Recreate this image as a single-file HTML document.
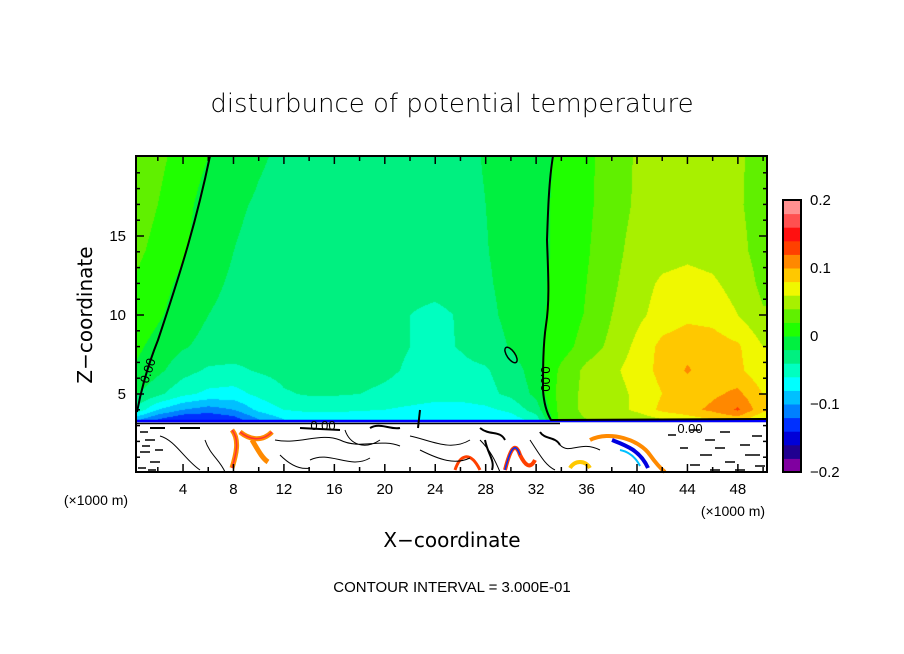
<!DOCTYPE html>
<html><head><meta charset="utf-8">
<style>
html,body{margin:0;padding:0;background:#fff;}
#wrap{position:relative;width:904px;height:654px;overflow:hidden;font-family:"Liberation Sans","DejaVu Sans",sans-serif;}
canvas{position:absolute;left:136px;top:156px;}
svg{position:absolute;left:0;top:0;}
</style></head>
<body>
<div id="wrap">
<canvas id="field" width="631" height="316"></canvas>
<svg id="ov" width="904" height="654">
  <text x="452" y="112" text-anchor="middle" font-size="26" font-family="DejaVu Sans, Liberation Sans, sans-serif" font-weight="200">disturbunce of potential temperature</text>
  <text transform="translate(92,315) rotate(-90)" text-anchor="middle" font-size="20" font-family="DejaVu Sans, Liberation Sans, sans-serif">Z−coordinate</text>
  <text x="452" y="547" text-anchor="middle" font-size="20" font-family="DejaVu Sans, Liberation Sans, sans-serif">X−coordinate</text>
  <text x="96" y="505" text-anchor="middle" font-size="14">(×1000 m)</text>
  <text x="733" y="516" text-anchor="middle" font-size="14">(×1000 m)</text>
  <text x="452" y="592" text-anchor="middle" font-size="15">CONTOUR INTERVAL = 3.000E-01</text>
  <line x1="136" y1="421" x2="767" y2="421" stroke="#0000ff" stroke-width="2.5"/>
  <line x1="136" y1="423.5" x2="560" y2="423.5" stroke="#000" stroke-width="1.5"/>
  <g id="lower">
    <path d="M232,430 C240,440 236,455 232,468 M240,432 C250,440 262,442 272,432 M252,440 C258,450 262,458 268,462" stroke="#ff8a00" stroke-width="5" fill="none"/>
    <path d="M232,430 C240,440 236,455 232,468 M240,432 C250,440 262,442 272,432" stroke="#ff3030" stroke-width="1.5" fill="none"/>
    <path d="M505,470 C510,450 515,440 520,455 C525,465 530,470 535,460" stroke="#ff4000" stroke-width="4" fill="none"/>
    <path d="M505,470 C510,450 515,440 520,455" stroke="#0030ff" stroke-width="1.5" fill="none"/>
    <path d="M590,440 C610,430 640,440 650,455 C655,462 660,468 665,472" stroke="#ff8a00" stroke-width="4" fill="none"/>
    <path d="M612,440 C625,445 640,450 648,468" stroke="#0000e0" stroke-width="4" fill="none"/>
    <path d="M620,450 C630,452 636,458 640,466" stroke="#00c0ff" stroke-width="2" fill="none"/>
    <path d="M455,470 C460,455 470,450 480,470" stroke="#ff4000" stroke-width="3" fill="none"/>
    <path d="M570,468 C575,460 585,460 590,468" stroke="#ffc800" stroke-width="4" fill="none"/>
    <path d="M160,436 C175,440 185,460 200,470 M205,440 C210,455 220,460 225,472 M275,440 C300,445 320,432 340,440 C360,450 380,438 400,446 M310,460 C330,450 350,470 370,458 M410,436 C430,440 450,452 470,440 M480,440 C490,450 495,460 500,472 M560,445 C570,455 580,440 600,450 M345,430 C350,445 365,450 380,440 M420,450 C440,460 455,465 470,458 M530,440 C540,455 545,465 555,470 M280,455 C290,465 300,470 310,468" stroke="#000" stroke-width="1" fill="none"/>
    <path d="M690,430 L700,430 M705,440 L715,440 M720,432 L730,432 M740,445 L750,445 M700,455 L712,455 M725,462 L735,462 M745,455 L760,455 M690,465 L700,465 M715,448 L725,448 M752,436 L762,436 M735,470 L745,470 M680,448 L688,448 M710,470 L720,470 M755,466 L765,466 M668,435 L676,435 M145,440 L155,440 M140,452 L150,452 M150,462 L160,462 M140,432 L148,432 M142,446 L150,446 M138,468 L146,468 M155,450 L163,450 M148,470 L156,470" stroke="#000" stroke-width="1.5" fill="none"/>
    <path d="M150,428 L165,428 M180,428 L200,428 M300,428 L340,430 M370,428 C380,422 390,430 400,428 M420,410 L418,428 M480,428 C490,436 500,430 505,440 M540,432 C545,440 555,436 560,445 M485,440 C488,455 495,460 492,470" stroke="#000" stroke-width="2" fill="none"/>
  </g>
  <path d="M210,156 C205,180 198,210 188,245 C178,280 168,310 158,340 C150,360 142,385 137,412" stroke="#000" stroke-width="2" fill="none"/>
  <path d="M553,156 C549,180 548,210 547,240 C548,270 550,300 546,325 C543,345 543,370 543,390 C544,405 548,415 551,420 L767,419" stroke="#000" stroke-width="2" fill="none"/>
  <ellipse cx="511" cy="355" rx="4" ry="9" transform="rotate(-35 511 355)" stroke="#000" stroke-width="1.5" fill="none"/>
  <text transform="translate(152,372) rotate(-72)" text-anchor="middle" font-size="13">0.00</text>
  <text transform="translate(541,379) rotate(90)" text-anchor="middle" font-size="13">0.00</text>
  <text x="323" y="430" text-anchor="middle" font-size="13">0.00</text>
  <text x="690" y="433" text-anchor="middle" font-size="13">0.00</text>
  <g id="axes"></g>
  <g id="cbar"></g>
</svg>
</div>
<script>
// ---- data ----
const xs = [0,2,4,6,8,10,12,14,16,18,20,22,24,26,28,30,32,34,36,38,40,42,44,46,48,50];
const zs = [3.4,4,5,6.5,8,10,12,14,17,20];
// values in units of 0.01 K, one row per z level
const row_z3_4 = [-9,-12,-14,-14,-13,-10,-8,-7.5,-7.5,-7.5,-7.5,-8,-8,-8,-7.5,-7,-5,3,4,4,4.5,6,7,8,9,6];
const row_z4   = [-4,-8,-10,-11,-10,-7.5,-6,-5.5,-5.5,-5.8,-6,-6.5,-7,-7,-6.5,-5.5,-3,3,4.5,5,6.5,8.5,9.3,10.5,12.3,8.5];
const row_z5   = [-1.5,-3.5,-5.5,-6.5,-6.8,-5.5,-4.2,-3.8,-3.8,-4,-4.3,-4.6,-5,-5,-4.6,-3.5,-1.5,3,4.5,5,6.5,8,8.8,9.6,10.5,8];
const row_z6_5 = [0,-1.5,-3.2,-4.3,-4.4,-3.8,-3.4,-3.3,-3.3,-3.4,-3.7,-4.2,-4.5,-4.4,-4.2,-3,-1,2.5,4.5,5.5,7,8.6,10.2,9,8.5,6.5];
const row_z8   = [0.6,-0.7,-1.8,-2.6,-3,-3.2,-3.2,-3.2,-3.3,-3.4,-3.6,-4,-4.4,-3.9,-3.2,-1.8,-0.4,1,3,4.5,6.5,8.6,9.3,9,8.3,6];
const row_z10  = [1.5,0.3,-1,-2,-2.6,-2.9,-3,-3.1,-3.2,-3.3,-3.5,-4,-4.5,-3.8,-2.6,-1.4,-0.4,0.6,2.2,4,5.5,6.8,7.5,7.3,6,4.2];
const row_z12  = [2,0.8,-0.5,-1.5,-2.3,-2.7,-2.9,-3,-3.1,-3.1,-3.2,-3.3,-3.3,-3,-2.3,-1.3,-0.4,0.5,2,3.6,5.2,6.3,6.6,6.3,5.2,3.5];
const row_z14  = [2.5,1.5,0.2,-1,-2,-2.5,-2.8,-2.9,-3,-3,-3,-3,-2.8,-2.6,-2.1,-1.3,-0.5,0.4,1.8,3.3,4.8,5.3,5.6,5.3,4.5,3.3];
const row_z17  = [3,2,0.6,-0.8,-1.7,-2.2,-2.6,-2.7,-2.8,-2.8,-2.8,-2.8,-2.7,-2.5,-2,-1.3,-0.5,0.4,1.6,3,4.3,5.2,5.5,5.2,4.2,3.3];
const row_z20  = [3.2,2.5,1.2,0,-1,-1.8,-2.3,-2.6,-2.7,-2.7,-2.7,-2.7,-2.6,-2.4,-1.9,-1.2,-0.6,0.3,1.5,3,4.2,5,5.2,5,4.2,3.5];
const rows = [row_z3_4,row_z4,row_z5,row_z6_5,row_z8,row_z10,row_z12,row_z14,row_z17,row_z20];
const bandColors = ['#8000a0','#200090','#0000d8','#0030ff','#0080ff','#00c0ff','#00ffff','#00ffc0','#00f080','#00f040',
                    '#20ff00','#60f000','#a8f000','#f0f800','#ffc800','#ff8800','#ff4000','#ff1010','#ff5050','#ff9090'];
const cbarLabels = ['0.2','0.1','0','−0.1','−0.2'];
const cbarValues = [0.2,0.1,0,-0.1,-0.2];
const xTickLabels = [4,8,12,16,20,24,28,32,36,40,44,48];
const yTickLabels = [5,10,15];

// ---- axes ----
const PL=136, PR=767, PT=156, PB=472;
const X = v => 132.6 + 12.61*v;
const Z = v => 473 - 15.8*v;
const CB = v => 472 - (v+0.2)*680;
const NS='http://www.w3.org/2000/svg';

function interp(arr, v){
  let i=0; while(i<arr.length-2 && v>arr[i+1]) i++;
  let t=(v-arr[i])/(arr[i+1]-arr[i]); t=Math.max(0,Math.min(1,t));
  return [i,t];
}
function hex(c){return [parseInt(c.substr(1,2),16),parseInt(c.substr(3,2),16),parseInt(c.substr(5,2),16)];}
const rgb = bandColors.map(hex);

// ---- field ----
const cv=document.getElementById('field'), ctx=cv.getContext('2d');
const W=cv.width,H=cv.height, img=ctx.createImageData(W,H);
for(let py=0;py<H;py++){
  const z=(473-(py+PT+0.5))/15.8;
  for(let px=0;px<W;px++){
    const x=(px+PL+0.5-132.6)/12.61;
    let c=[255,255,255];
    if(z>=3.2){
      const [i,t]=interp(zs,z), [j,s]=interp(xs,x);
      const a=rows[i][j]*(1-s)+rows[i][j+1]*s, b=rows[i+1][j]*(1-s)+rows[i+1][j+1]*s;
      const v=(a*(1-t)+b*t)/100;
      let k=Math.floor((v+0.2)/0.02); k=Math.max(0,Math.min(19,k));
      c=rgb[k];
    }
    const o=(py*W+px)*4; img.data[o]=c[0];img.data[o+1]=c[1];img.data[o+2]=c[2];img.data[o+3]=255;
  }
}
ctx.putImageData(img,0,0);

// ---- overlay: frame, ticks, labels ----
const ax=document.getElementById('axes');
function el(tag,attrs,parent){const e=document.createElementNS(NS,tag);for(const k in attrs)e.setAttribute(k,attrs[k]);parent.appendChild(e);return e;}
const frame=el('rect',{x:PL,y:PT,width:PR-PL,height:PB-PT,fill:'none',stroke:'#000','stroke-width':2},ax);


for(let v=1;v<=50;v++){
  const x=X(v); if(x<=PL||x>=PR) continue;
  const L=(v%4===0)?8:(v%2===0?5:0); if(!L) continue;
  const t1=el('line',{x1:x,x2:x,y1:PB,y2:PB-L,stroke:'#000','stroke-width':1.5},ax);
  
  
  const t2=el('line',{x1:x,x2:x,y1:PT,y2:PT+L,stroke:'#000','stroke-width':1.5},ax);
  
  
}
for(let v=1;v<20;v++){
  const y=Z(v); const L=(v%5===0)?8:4;
  const t1=el('line',{x1:PL,x2:PL+L,y1:y,y2:y,stroke:'#000','stroke-width':1.5},ax);
  
  
  const t2=el('line',{x1:PR,x2:PR-L,y1:y,y2:y,stroke:'#000','stroke-width':1.5},ax);
  
  
}
xTickLabels.forEach(v=>{
  const t=el('text',{x:X(v),y:494,'text-anchor':'middle','font-size':15},ax); t.textContent=v;
  
  
});
yTickLabels.forEach(v=>{
  const t=el('text',{x:126,y:Z(v)+5,'text-anchor':'end','font-size':15},ax); t.textContent=v;
  
  
});

// ---- colorbar ----
const cb=document.getElementById('cbar');
bandColors.forEach((c,i)=>{
  const v0=-0.2+0.02*i, y1=CB(v0+0.02), y0=CB(v0);
  const r=el('rect',{x:783,y:y1,width:18,height:y0-y1+0.5,fill:c},cb);
  
  
});
const cbf=el('rect',{x:783,y:CB(0.2),width:18,height:CB(-0.2)-CB(0.2),fill:'none',stroke:'#000','stroke-width':2},cb);


cbarValues.forEach((v,i)=>{
  const t=el('text',{x:810,y:CB(v)+5,'font-size':15},cb); t.textContent=cbarLabels[i];
  
  
});
</script>
</body></html>
